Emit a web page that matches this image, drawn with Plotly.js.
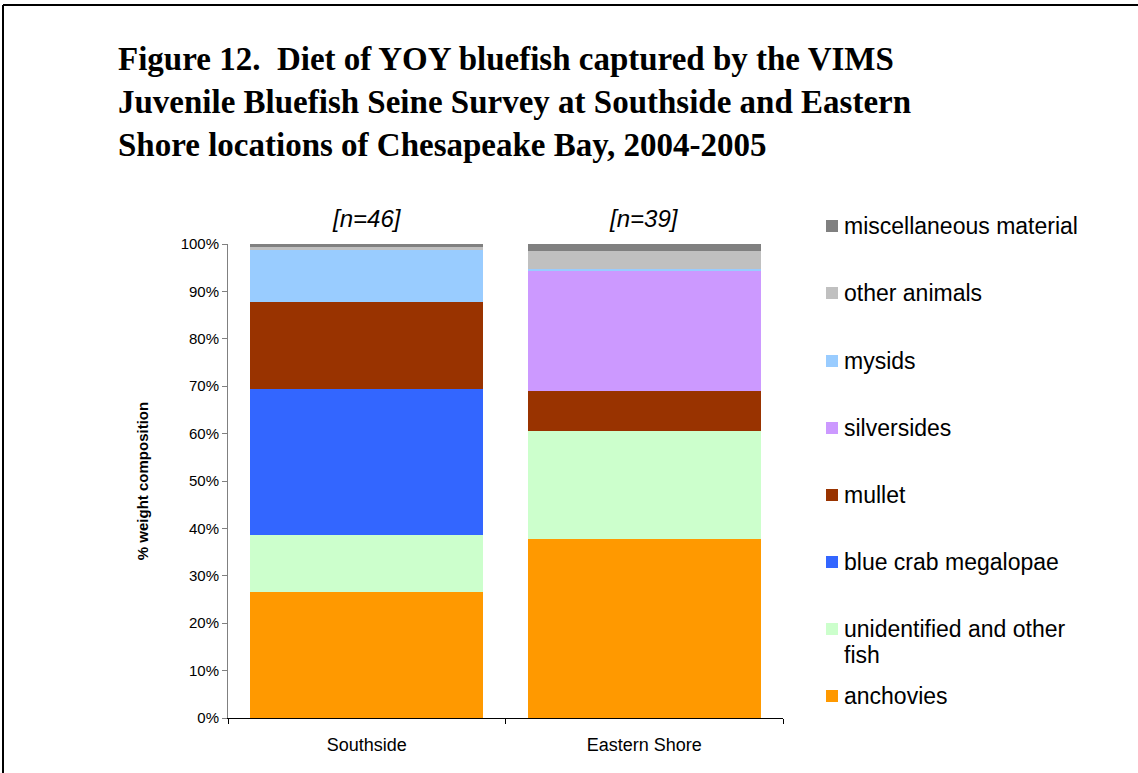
<!DOCTYPE html>
<html>
<head>
<meta charset="utf-8">
<script src="https://cdn.plot.ly/plotly-3.0.1.min.js"></script>
<style>html,body{margin:0;padding:0;background:#fff;}#chart{width:1138px;height:773px;}</style>
</head>
<body>
<div id="chart"></div>
<script>
// Data
const sites = ["Southside", "Eastern Shore"];
const sampleSizes = ["[n=46]", "[n=39]"];
const preyNames = ["anchovies", "unidentified and other<br>fish", "blue crab megalopae", "mullet", "silversides", "mysids", "other animals", "miscellaneous material"];
const anchovies = [26.6, 37.8];
const unidentifiedFish = [12.0, 22.8];
const blueCrab = [30.8, 0];
const mullet = [18.4, 8.4];
const silversides = [0, 25.3];
const mysids = [11.0, 0.4];
const otherAnimals = [0.6, 3.9];
const miscMaterial = [0.6, 1.4];
const preyColors = ["#FF9900", "#CCFFCC", "#3366FF", "#993300", "#CC99FF", "#99CCFF", "#C0C0C0", "#808080"];
const yTicks = [0, 10, 20, 30, 40, 50, 60, 70, 80, 90, 100];

const series = [anchovies, unidentifiedFish, blueCrab, mullet, silversides, mysids, otherAnimals, miscMaterial];

const traces = series.map((vals, i) => ({
  type: "bar",
  x: sites,
  y: vals,
  name: preyNames[i],
  marker: {color: preyColors[i], line: {width: 0}},
  showlegend: false,
  hoverinfo: "name+y"
}));

// Plot area in pixels: x 228..783, y 244..718
const W = 1138, H = 773;
const L = 228, R = 783, T = 244, B = 718;
const px = v => (v - L) / (R - L);
const py = v => (B - v) / (B - T);

const shapes = [];
const annotations = [];

// Manual legend (reversed order, top = last series)
const legendRowY = [226, 293, 361, 428, 495, 562, 629, 696];
const legendLineGap = 26;
const legendOrder = preyNames.map((_, i) => preyNames.length - 1 - i);
legendOrder.forEach((idx, row) => {
  const yc = legendRowY[row];
  shapes.push({type: "rect", xref: "paper", yref: "paper",
    x0: px(826), x1: px(838), y0: py(yc + 6), y1: py(yc - 6),
    fillcolor: preyColors[idx], line: {width: 0}});
  preyNames[idx].split("<br>").forEach((line, k) => {
    annotations.push({xref: "paper", yref: "paper", x: px(842), y: py(yc + k * legendLineGap),
      xanchor: "left", yanchor: "middle", align: "left", showarrow: false,
      text: line, font: {family: "Liberation Sans, Arial", size: 23, color: "#000"}});
  });
});

// Sample size labels
sites.forEach((s, i) => {
  annotations.push({xref: "x", yref: "paper", x: s, y: py(218), yanchor: "middle",
    showarrow: false, text: "<i>" + sampleSizes[i] + "</i>",
    font: {family: "Liberation Sans, Arial", size: 24, color: "#000"}});
});

// Outer frame lines
shapes.push({type: "line", xref: "paper", yref: "paper", x0: px(3), x1: px(1138), y0: py(5), y1: py(5), line: {color: "#000", width: 2}});
shapes.push({type: "line", xref: "paper", yref: "paper", x0: px(3), x1: px(3), y0: py(5), y1: py(773), line: {color: "#000", width: 2}});

const layout = {
  width: W, height: H,
  margin: {l: L, r: W - R, t: T, b: H - B, pad: 0},
  paper_bgcolor: "#fff", plot_bgcolor: "#fff",
  barmode: "stack", bargap: 0.16,
  showlegend: false,
  font: {family: "Liberation Sans, Arial", color: "#000"},
  title: {
    text: "<b>Figure 12.  Diet of YOY bluefish captured by the VIMS<br>Juvenile Bluefish Seine Survey at Southside and Eastern<br>Shore locations of Chesapeake Bay, 2004-2005</b>",
    font: {family: "Liberation Serif, Times New Roman", size: 33, color: "#000"},
    xref: "container", yref: "container", x: 118 / W, xanchor: "left",
    y: 1 - 70 / H, yanchor: "top", align: "left"
  },
  xaxis: {
    type: "category", showgrid: false, zeroline: false,
    showline: true, linecolor: "#000", linewidth: 1,
    ticks: "outside", tickson: "boundaries", ticklen: 5, tickcolor: "#000",
    ticklabelstandoff: 10,
    tickfont: {size: 18, color: "#000"}, fixedrange: true
  },
  yaxis: {
    range: [0, 100], tickvals: yTicks, ticktext: yTicks.map(v => v + "%"),
    showgrid: false, zeroline: false,
    showline: true, linecolor: "#808080", linewidth: 1,
    ticks: "outside", ticklen: 5, tickcolor: "#808080",
    tickfont: {size: 15, color: "#000"},
    title: {text: "<b>% weight composition</b>", font: {size: 15, color: "#000"}, standoff: 28},
    automargin: false, fixedrange: true
  },
  shapes: shapes,
  annotations: annotations
};

Plotly.newPlot("chart", traces, layout, {displayModeBar: false, staticPlot: true});
</script>
</body>
</html>
